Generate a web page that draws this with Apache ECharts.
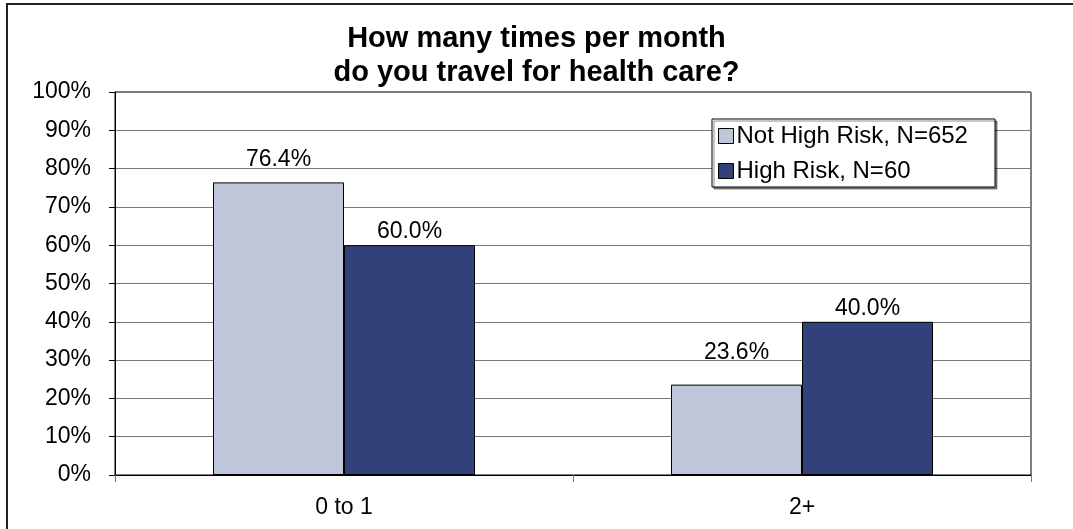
<!DOCTYPE html>
<html>
<head>
<meta charset="utf-8">
<script src="https://cdn.jsdelivr.net/npm/echarts@6/dist/echarts.min.js"></script>
<style>
  html, body { margin: 0; padding: 0; background: #fff; }
  #chart { width: 1073px; height: 529px; }
</style>
</head>
<body>
<div id="chart"></div>
<script>
// Trip frequency categories and the share of each risk group per category (%)
const categories = ['0 to 1', '2+'];
const notHighRisk = [76.4, 23.6];
const highRisk = [60.0, 40.0];
const seriesNames = ['Not High Risk, N=652', 'High Risk, N=60'];
const titleText = 'How many times per month\ndo you travel for health care?';

// gap between each value label and its bar top, per bar
const notHighRiskLabelGap = [11, 20];
const highRiskLabelGap = [2, 2];

const FONT = '"Liberation Sans", Arial, sans-serif';
const FS = 23;

const chart = echarts.init(document.getElementById('chart'), null, { renderer: 'canvas' });

function barData(values, gaps) {
  return values.map((v, i) => ({
    value: v,
    label: {
      show: true,
      position: 'top',
      distance: gaps[i],
      color: '#000',
      fontSize: FS,
      fontFamily: FONT,
      formatter: p => p.value.toFixed(1) + '%'
    }
  }));
}

chart.setOption({
  backgroundColor: '#fff',
  animation: false,
  textStyle: { fontFamily: FONT },
  title: {
    text: titleText,
    left: 'center',
    top: 17,
    textStyle: {
      fontSize: 29,
      fontWeight: 'bold',
      color: '#000',
      lineHeight: 34,
      fontFamily: FONT
    }
  },
  graphic: [
    {
      // outer frame of the chart area
      type: 'rect',
      z: 0,
      silent: true,
      shape: { x: 7, y: 4, width: 1100, height: 600 },
      style: { fill: 'none', stroke: '#222', lineWidth: 2 }
    },
    {
      // legend box
      type: 'rect',
      z: 10,
      silent: true,
      shape: { x: 712, y: 119, width: 283, height: 68 },
      style: {
        fill: '#fff', stroke: '#000', lineWidth: 1,
        shadowColor: 'rgba(0,0,0,0.45)', shadowOffsetX: 2, shadowOffsetY: 2, shadowBlur: 0
      }
    }
  ],
  legend: {
    z: 20,
    orient: 'vertical',
    left: 718,
    top: 124,
    padding: 0,
    itemWidth: 15,
    itemHeight: 15,
    itemGap: 11,
    icon: 'rect',
    selectedMode: false,
    itemStyle: { borderColor: '#000', borderWidth: 1 },
    textStyle: { fontSize: 24, color: '#000', lineHeight: 23, padding: [0, 0, 0, -2], fontFamily: FONT },
    data: seriesNames
  },
  grid: {
    left: 115,
    right: 42,
    top: 92,
    bottom: 54,
    show: true,
    borderColor: '#000',
    borderWidth: 1,
    backgroundColor: '#fff'
  },
  xAxis: {
    type: 'category',
    data: categories,
    axisLine: { lineStyle: { color: '#000', width: 1 } },
    axisTick: { show: true, length: 7, lineStyle: { color: '#777' } },
    axisLabel: { fontSize: FS, color: '#000', margin: 21, fontFamily: FONT }
  },
  yAxis: {
    type: 'value',
    min: 0,
    max: 100,
    interval: 10,
    axisLine: { show: true, lineStyle: { color: '#000', width: 1 } },
    axisTick: { show: true, length: 6, lineStyle: { color: '#000' } },
    axisLabel: { fontSize: FS, color: '#000', margin: 24, formatter: '{value}%', fontFamily: FONT },
    splitLine: { lineStyle: { color: '#777', width: 1 } }
  },
  series: [
    {
      name: seriesNames[0],
      type: 'bar',
      data: barData(notHighRisk, notHighRiskLabelGap),
      barWidth: 131,
      barGap: '0%',
      itemStyle: { color: '#C0C6DA', borderColor: '#000', borderWidth: 1 }
    },
    {
      name: seriesNames[1],
      type: 'bar',
      data: barData(highRisk, highRiskLabelGap),
      barWidth: 131,
      barGap: '0%',
      itemStyle: { color: '#32417A', borderColor: '#000', borderWidth: 1 }
    }
  ]
});
</script>
</body>
</html>
